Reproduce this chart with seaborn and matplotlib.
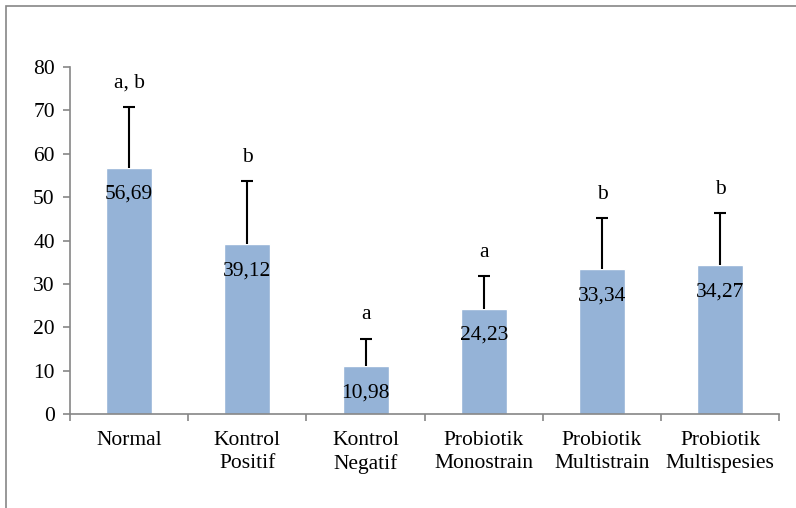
import matplotlib
matplotlib.use('Agg')
import matplotlib.pyplot as plt
import matplotlib.patches as mpatches
import numpy as np
import pandas as pd
import seaborn as sns

groups = ['Normal', 'Kontrol\nPositif', 'Kontrol\nNegatif', 'Probiotik\nMonostrain',
          'Probiotik\nMultistrain', 'Probiotik\nMultispesies']
means = [56.69, 39.12, 10.98, 24.23, 33.34, 34.27]
errors = [14.1, 14.5, 6.4, 7.6, 11.8, 12.0]
letters = ['a, b', 'b', 'a', 'a', 'b', 'b']
value_labels = ['56,69', '39,12', '10,98', '24,23', '33,34', '34,27']


def main():
    sns.set_style('white')
    plt.rcParams['font.family'] = ['Liberation Serif', 'DejaVu Serif']
    plt.rcParams['text.color'] = 'black'
    plt.rcParams['xtick.color'] = 'black'
    plt.rcParams['ytick.color'] = 'black'
    fs = 15.5

    df = pd.DataFrame({'group': groups, 'mean': means})

    fig = plt.figure(figsize=(7.96, 5.08), dpi=100)
    ax = fig.add_axes([0.088, 0.185, 0.891, 0.683])

    sns.barplot(data=df, x='group', y='mean', color='#95B3D7', saturation=1,
                width=0.39, errorbar=None, ax=ax)

    x = np.arange(len(groups))
    _, caps, _ = ax.errorbar(x, means, yerr=[np.zeros(len(errors)), errors], fmt='none',
                             ecolor='black', elinewidth=1.5, capsize=4, capthick=1.5)
    # only keep the upper cap
    caps[0].set_visible(False)

    for xi, m, e, lab, val in zip(x, means, errors, letters, value_labels):
        ax.text(xi, m + e + 5.5, lab, ha='center', va='center', fontsize=fs)
        ax.annotate(val, (xi, m), xytext=(0, -19), textcoords='offset points',
                    ha='center', va='center', fontsize=fs)

    ax.set_ylim(0, 80)
    ax.set_xlim(-0.5, len(groups) - 0.5)
    ax.set_yticks(range(0, 81, 10))
    ax.set_xlabel('')
    ax.set_ylabel('')

    for side in ['top', 'right']:
        ax.spines[side].set_visible(False)
    for side in ['left', 'bottom']:
        ax.spines[side].set_color('#868686')
        ax.spines[side].set_linewidth(1.2)

    ax.set_xticks(x)
    ax.set_xticklabels(groups, fontsize=fs, linespacing=1.3)
    ax.set_xticks(np.arange(-0.5, len(groups), 1), minor=True)
    ax.tick_params(axis='x', which='major', length=0, pad=12)
    ax.tick_params(axis='x', which='minor', length=5, color='#868686', width=1.2,
                   direction='out', bottom=True)
    ax.tick_params(axis='y', length=5, color='#868686', width=1.2, direction='out',
                   left=True, labelsize=fs, pad=6)

    frame = mpatches.Rectangle((0.0075, -0.1), 1.2, 1.088, transform=fig.transFigure,
                               fill=False, edgecolor='#868686', linewidth=1.2)
    fig.patches.append(frame)

    fig.savefig('out.png', dpi=100)


if __name__ == '__main__':
    main()
